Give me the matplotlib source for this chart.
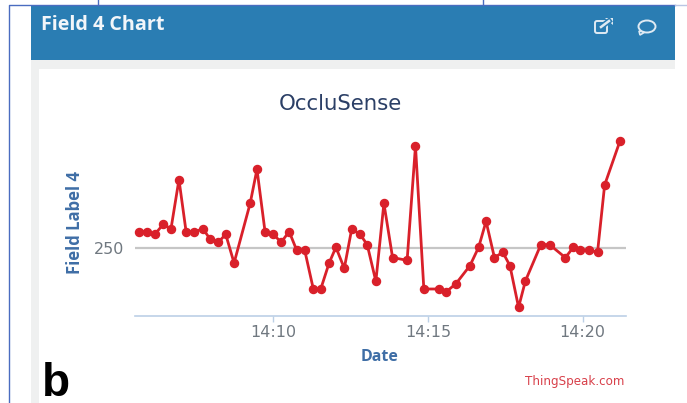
import matplotlib
matplotlib.use("Agg")
import matplotlib.pyplot as plt
from matplotlib.patches import Rectangle, FancyBboxPatch, Ellipse, Polygon

# minutes after 14:00
minutes = [5.67, 5.92, 6.18, 6.46, 6.70, 6.96, 7.19, 7.46, 7.74, 7.97, 8.23, 8.47, 8.74,
           9.26, 9.48, 9.74, 10.01, 10.26, 10.52, 10.76, 11.02, 11.30, 11.54, 11.81, 12.03,
           12.30, 12.54, 12.81, 13.04, 13.32, 13.58, 13.86, 14.33, 14.60, 14.87, 15.37,
           15.60, 15.91, 16.36, 16.64, 16.88, 17.15, 17.42, 17.65, 17.93, 18.15, 18.65,
           18.93, 19.44, 19.70, 19.93, 20.20, 20.48, 20.71, 21.21]
field4 = [266.7, 266.7, 264, 274.3, 269, 318.7, 266.7, 266.7, 269.3, 259, 256, 264, 235.3,
          295, 329, 266.7, 264, 256, 266.7, 248.3, 248.3, 209.3, 209.3, 235.3, 251,
          230, 269.3, 264, 253.7, 217, 295, 240.7, 238, 352.3, 209.3, 209.3,
          206.7, 214.7, 232.7, 251, 277, 240.7, 246, 232.7, 191, 217.3, 253.7,
          253.7, 240.7, 251, 248.3, 248.3, 246, 313.3, 357.7]
x_ticks = [10, 15, 20]
x_labels = ["14:10", "14:15", "14:20"]
y_ticks = [250]
y_labels = ["250"]

W, H = 687, 403
fig = plt.figure(figsize=(W / 100, H / 100), dpi=100, facecolor="white")

# page furniture, drawn in pixel coordinates
bg = fig.add_axes([0, 0, 1, 1])
bg.set_xlim(0, W)
bg.set_ylim(H, 0)
bg.axis("off")
border = "#4a6cc0"
bg.plot([8.5, 8.5, 675], [403, 5, 5], color=border, lw=1)
bg.plot([97.5, 97.5], [0, 5], color=border, lw=1)
bg.plot([483, 483], [0, 5], color=border, lw=1)
bg.plot([675, 687], [5, 5], color="#b9c6e4", lw=1)
bg.add_patch(Rectangle((31, 5), 644, 55, color="#2a7db3", lw=0))
bg.add_patch(Rectangle((31, 60), 644, 9, color="#eff0f0", lw=0))
bg.add_patch(Rectangle((31, 60), 8, 343, color="#eff0f0", lw=0))
bg.text(41, 25, "Field 4 Chart", color="#f2f6fa", fontsize=14.2, fontweight="bold",
        va="center", ha="left", family="Open Sans")

# header icons
ic = "#dfeaf3"
bg.add_patch(FancyBboxPatch((595, 21), 12, 12, boxstyle="round,pad=0,rounding_size=2",
                            fc="none", ec=ic, lw=1.4))
bg.plot([601, 609], [27, 21], color="#2a7db3", lw=4)
bg.plot([601, 609], [27, 21], color=ic, lw=1.8)
bg.add_patch(Polygon([[605, 18], [613, 18], [613, 25]], color=ic, lw=0))
bg.add_patch(Polygon([[639, 31], [640, 35], [645, 32]], fc="#2a7db3", ec=ic, lw=1.2))
bg.add_patch(Ellipse((647, 26.5), 17, 12, fc="#2a7db3", ec=ic, lw=1.4))

bg.text(340, 104, "OccluSense", color="#2b3f66", fontsize=15.3, ha="center", va="center")
bg.text(75, 223, "Field Label 4", color="#3f6ea6", fontsize=12, fontweight="bold",
        rotation=90, ha="center", va="center", family="Open Sans")
bg.text(380, 357, "Date", color="#3f6ea6", fontsize=11.5, fontweight="bold",
        ha="center", va="center", family="Open Sans")
bg.text(575, 382, "ThingSpeak.com", color="#d8404a", fontsize=8.6, ha="center", va="center")
bg.text(42, 384, "b", color="black", fontsize=33, fontweight="bold", ha="left", va="center",
        family="Liberation Sans")

# chart area: 135..626 px across, 130..316 px down
ax = fig.add_axes([135 / W, 1 - 316.3 / H, (626 - 135) / W, (316.3 - 130) / H])
ax.patch.set_alpha(0)
ax.set_xlim(5.54, 21.40)
ax.set_ylim(182, 368.3)
ax.axhline(250, color="#c6c6c6", lw=1.6, zorder=1)
ax.plot(minutes, field4, color="#d9202a", lw=2, marker="o", ms=5.8, zorder=3, clip_on=False)

for s in ["top", "right", "left"]:
    ax.spines[s].set_visible(False)
ax.spines["bottom"].set_color("#bcd0e6")
ax.spines["bottom"].set_linewidth(1.2)
ax.set_xticks(x_ticks)
ax.set_xticklabels(x_labels)
ax.set_yticks(y_ticks)
ax.set_yticklabels(y_labels)
ax.tick_params(axis="x", length=4, width=1, color="#bcd0e6", labelcolor="#707880",
               labelsize=11.5, pad=2)
ax.tick_params(axis="y", length=0, labelcolor="#707880", labelsize=11.5, pad=8)

fig.savefig("out.png", dpi=100)
